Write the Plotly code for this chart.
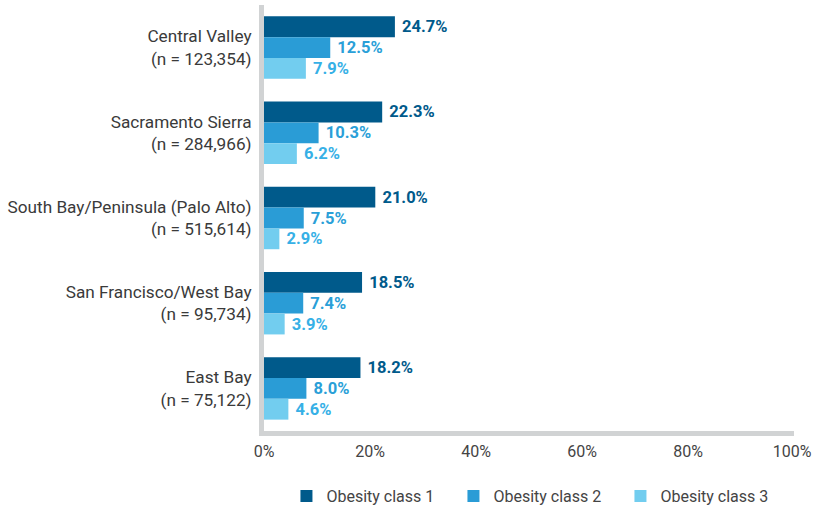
import plotly.graph_objects as go

regions = ["Central Valley<br>(n = 123,354)",
           "Sacramento Sierra<br>(n = 284,966)",
           "South Bay/Peninsula (Palo Alto)<br>(n = 515,614)",
           "San Francisco/West Bay<br>(n = 95,734)",
           "East Bay<br>(n = 75,122)"]
class1 = [24.7, 22.3, 21.0, 18.5, 18.2]
class2 = [12.5, 10.3, 7.5, 7.4, 8.0]
class3 = [7.9, 6.2, 2.9, 3.9, 4.6]
series_names = ["Obesity class 1", "Obesity class 2", "Obesity class 3"]
tick_vals = [0, 20, 40, 60, 80, 100]
tick_text = ["0%", "20%", "40%", "60%", "80%", "100%\u00a0"]

bar_colors = ["#005a8b", "#2a9cd6", "#72cdef"]
label_colors = ["#005a8b", "#2a9fd8", "#36b0e6"]

FONT = "Roboto"
fig = go.Figure()
for name, vals, bc, lc in zip(series_names, [class1, class2, class3], bar_colors, label_colors):
    fig.add_trace(go.Bar(
        y=regions, x=vals, name=name, orientation="h",
        marker=dict(color=bc, line=dict(width=0)),
        text=[f"\u00a0{v:.1f}%" for v in vals], textposition="outside",
        textfont=dict(family=FONT, size=16.5, color=lc, weight="bold"),
        cliponaxis=False,
    ))

fig.update_layout(
    width=818, height=509,
    paper_bgcolor="white", plot_bgcolor="white",
    margin=dict(l=264, r=24, t=5, b=78, autoexpand=False),
    barmode="group", bargap=0.267, bargroupgap=0,
    font=dict(family=FONT, color="#444444"),
    showlegend=True,
    legend=dict(orientation="h", x=0.515, xanchor="center", y=-0.153, yanchor="middle",
                font=dict(family=FONT, size=16, color="#444444"),
                traceorder="normal", entrywidth=122, entrywidthmode="pixels"),
)
fig.update_xaxes(range=[0, 100], tickvals=tick_vals, ticktext=tick_text,
                 showgrid=False, zeroline=False, showline=True, linewidth=5,
                 linecolor="#d1d3d4", ticks="", ticklabelstandoff=2,
                 ticklabeloverflow="allow",
                 tickfont=dict(family=FONT, size=16, color="#444444"))
fig.update_yaxes(autorange="reversed", showgrid=False, zeroline=False,
                 showline=True, linewidth=5, linecolor="#d1d3d4", ticks="",
                 ticklabelstandoff=4,
                 tickfont=dict(family=FONT, size=17.2, color="#3a3a3a"))

fig.write_html("out.html", config={"displayModeBar": False},
               post_script="document.body.style.margin='0';document.body.style.overflow='hidden';")
